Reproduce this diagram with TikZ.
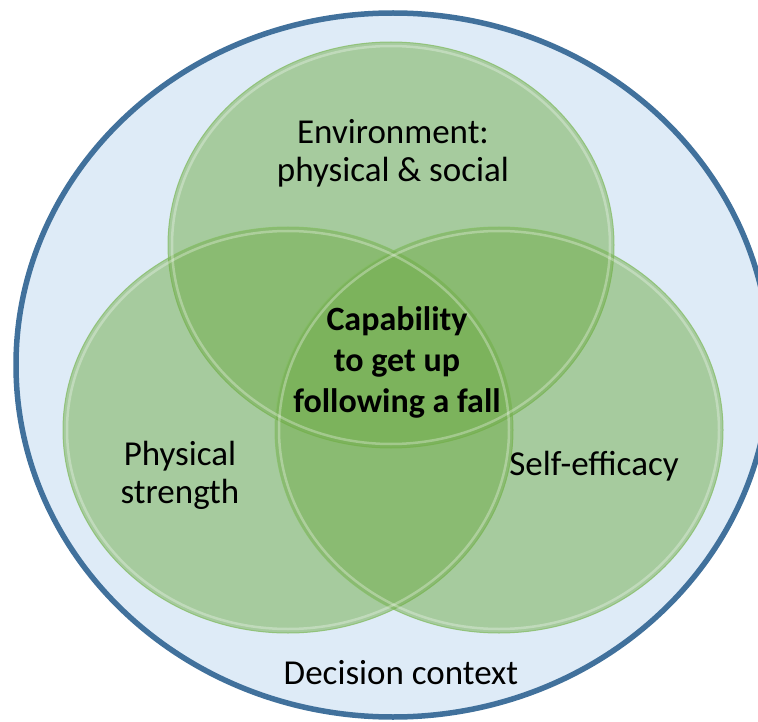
\documentclass[tikz,border=0pt]{standalone}
\usepackage{fontspec}
\setmainfont{Carlito}
\definecolor{ctxfill}{RGB}{222,235,247}
\definecolor{ctxline}{RGB}{65,113,156}
\definecolor{venngreen}{RGB}{112,173,71}
\definecolor{vennedge}{RGB}{135,190,105}
\begin{document}
\begin{tikzpicture}[x=1pt,y=-1pt,
  ctx/.style={fill=ctxfill,draw=ctxline,line width=5.5pt},
  venn/.style={fill=venngreen,fill opacity=0.5,draw=vennedge,draw opacity=0.8,line width=1pt},
  rim/.style={draw=white,draw opacity=0.3,line width=2.5pt},
  lbl/.style={align=center,text=black,font=\fontsize{35}{38}\selectfont},
  core/.style={align=center,text=black,font=\fontsize{34}{41}\selectfont\bfseries}]
\useasboundingbox (0,0) rectangle (758,722);
\clip (0,0) rectangle (758,722);
% decision context
\draw[ctx] (393,365) ellipse [x radius=377pt, y radius=352pt];
% three circles
\path[venn] (391,245) ellipse [x radius=223pt, y radius=203pt];
\path[venn] (288,430) ellipse [x radius=225pt, y radius=203pt];
\path[venn] (499,430) ellipse [x radius=224pt, y radius=203pt];
% glossy rims
\path[rim] (391,245) ellipse [x radius=219pt, y radius=199pt];
\path[rim] (288,430) ellipse [x radius=221pt, y radius=199pt];
\path[rim] (499,430) ellipse [x radius=220pt, y radius=199pt];
% labels
\node[lbl] (env) at (393,153) {Environment:\\physical \& social};
\node[lbl] (phys) at (180,475) {Physical\\strength};
\node[lbl] (self) at (594,466) {Self-efficacy};
\node[core] (cap) at (397,362) {Capability\\to get up\\following a fall};
\node[lbl] (ctx) at (401,673) {Decision context};
\end{tikzpicture}
\end{document}
